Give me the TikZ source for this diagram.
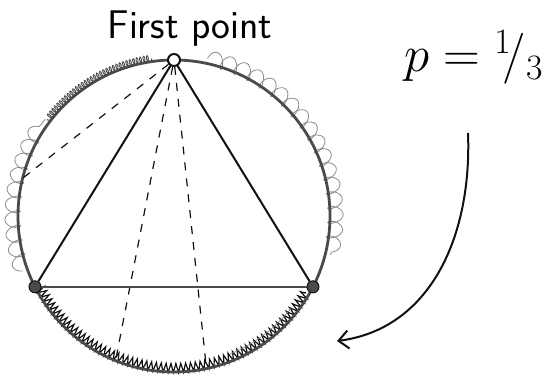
\RequirePackage{fix-cm}
\documentclass[tikz,border=0pt]{standalone}
\usepackage{fontspec}
\usetikzlibrary{arrows.meta,decorations.pathmorphing,calc}
\definecolor{skInk}{HTML}{111111}
\definecolor{skGrey}{HTML}{4A4A4A}
\definecolor{skPencil}{HTML}{8C8C8C}
\tikzset{
  rim/.style={draw=skGrey, line width=2.8pt},
  side/.style={draw=skInk, line width=2pt},
  base/.style={draw=skGrey, line width=1.6pt},
  chord/.style={draw=skInk, line width=1.2pt, dash pattern=on 8pt off 8pt},
  vtx/.style={circle, draw=skInk, fill=skGrey, line width=1pt, inner sep=0pt, minimum size=12pt},
  vtxtop/.style={vtx, fill=white, line width=2pt},
  finemark/.style={draw=skGrey, line width=0.9pt, decorate, decoration={coil, amplitude=3.5pt, segment length=3.5pt}},
  loopmark/.style={draw=skPencil, line width=0.8pt, decorate, decoration={coil, amplitude=8pt, segment length=15pt}},
  hatchmark/.style={draw=skInk, line width=1.2pt, decorate, decoration={zigzag, amplitude=4.5pt, segment length=5pt}},
  arr/.style={-{Straight Barb[length=10pt,width=18pt]}, draw=skInk, line width=2pt},
}
\begin{document}
\begin{tikzpicture}[x=1pt,y=1pt]
  \useasboundingbox (0,0) rectangle (553,377);
  \coordinate (c) at (174,161);
  % scribbles along the arcs
  \draw[finemark] ($(c)+(98:159)$) arc[start angle=98, end angle=143, radius=159];
  \draw[loopmark] ($(c)+(200:161)$) arc[start angle=200, end angle=143, radius=161];
  \draw[loopmark] ($(c)+(78:161)$) arc[start angle=78, end angle=-14, radius=161];
  \draw[hatchmark] ($(c)+(208:152)$) arc[start angle=208, end angle=330, radius=152];
  \draw[skPencil, line width=0.7pt] ($(c)+(292:149)$) arc[start angle=292, end angle=322, radius=149];
  % circle and points
  \draw[rim] (c) circle[radius=156];
  \node[vtxtop] (top) at ($(c)+(90:156)$) {};
  \node[vtx] (lft) at ($(c)+(207:156)$) {};
  \node[vtx] (rgt) at ($(c)+(333:156)$) {};
  \coordinate (d1) at ($(c)+(166:156)$);
  \coordinate (d2) at ($(c)+(248:156)$);
  \coordinate (d3) at ($(c)+(282:156)$);
  \foreach \e in {d1,d2,d3}
    \draw[chord] (top) -- (\e);
  \draw[side] (top) -- (lft);
  \draw[side] (top) -- (rgt);
  \draw[base] (lft) -- (rgt);
  % labels
  \node[anchor=base, inner sep=0pt, font=\sffamily\fontsize{40}{40}\selectfont] (first) at (190,338) {First point};
  \node[anchor=base west, inner sep=0pt, font=\fontsize{51}{51}\selectfont] (prob) at (404,305) {$p = {}^{1}\!/_{3}$};
  \coordinate (a0) at (468,244);
  \coordinate (a1) at (337,36);
  \draw[arr] (a0) .. controls (472,140) and (430,48) .. (a1);
\end{tikzpicture}
\end{document}
